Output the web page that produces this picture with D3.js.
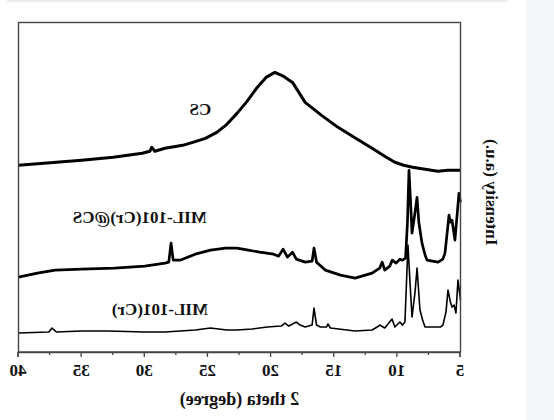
<!DOCTYPE html>
<meta charset="utf-8">
<style>
  body { margin: 0; background: #fff; }
  text { font-family: "Liberation Serif", "Times New Roman", serif; font-weight: bold; fill: #111; }
</style>
<script src="https://d3js.org/d3.v7.min.js"></script>
<div id="my_dataviz"></div>
<script>

// XRD patterns, [2 theta (deg), intensity (a.u.)]
var cs = [
  [40, 187], [37, 190], [35, 192], [32.5, 195], [30.2, 199], [29.6, 201], [29.45, 205], [29.2, 201],
  [28.4, 204], [27, 207], [26.2, 210], [25.2, 214], [24.3, 220], [23.5, 228], [22.7, 239],
  [21.9, 251], [21.1, 265], [20.4, 275], [19.7, 280], [19, 276], [18.3, 270], [17.3, 250],
  [16, 237], [14.7, 225], [13.3, 214], [12, 204], [11, 196], [10.2, 190], [9.5, 187],
  [8.8, 185], [7.8, 183], [6.8, 181], [6, 182], [5, 182]
];

var milcs = [
  [40, 75], [38.5, 79], [37.1, 82], [35, 83], [32.4, 84], [30, 86], [28.4, 89], [28.1, 90],
  [27.92, 109], [27.75, 92], [27.2, 92], [26, 98], [24.8, 102], [23.6, 104], [22.7, 104],
  [21.8, 102], [20.9, 100], [19.8, 98], [19.4, 96], [19.05, 103], [18.7, 95], [18.3, 100],
  [18, 93], [17.3, 90], [16.75, 91], [16.6, 104], [16.4, 90], [15.7, 82], [14.5, 77],
  [13.35, 74], [12, 79], [11.4, 84], [11.2, 90], [11, 82], [10.6, 86], [10.4, 92], [10.1, 89],
  [9.8, 93], [9.6, 92], [9.35, 94], [9.2, 130], [9.08, 182], [8.95, 150], [8.84, 119],
  [8.6, 140], [8.44, 155], [8.3, 130], [8.05, 109], [7.8, 97], [7.65, 92], [6.78, 90],
  [6.4, 93], [6.23, 99], [6.05, 120], [5.91, 137], [5.8, 130], [5.67, 132], [5.44, 112],
  [5.25, 140], [5.12, 159], [5, 150]
];

var mil = [
  [40, 19], [37.6, 20], [37.35, 24], [37, 20], [35, 21], [32.9, 21], [30, 20], [28.4, 20],
  [26, 22], [24.8, 24], [23.5, 22], [22.7, 22], [21.5, 23], [20.3, 25], [19.2, 26], [18.9, 29],
  [18.6, 26], [18, 30], [17.7, 27], [17.3, 25], [16.75, 27], [16.6, 44], [16.4, 27], [16.1, 25],
  [15.6, 25], [15.5, 28], [15.3, 24], [14, 22], [13.35, 21], [12, 22], [11.6, 25], [11.4, 27],
  [11, 24], [10.42, 33], [10.2, 25], [9.8, 30], [9.6, 27], [9.4, 30], [9.16, 107], [9, 70],
  [8.84, 35], [8.6, 60], [8.44, 84], [8.21, 42], [8, 32], [7.81, 25], [6.6, 25], [6.39, 27],
  [6.15, 40], [5.99, 62], [5.8, 50], [5.67, 45], [5.51, 47], [5.36, 39], [5.2, 72], [5, 52]
];

var majorTicks = [5, 10, 15, 20, 25, 30, 35, 40];
var minorTicks = [7.5, 12.5, 17.5, 22.5, 27.5, 32.5, 37.5];

var labels = [
  {text: "CS", at: [25.6, 237]},
  {text: "MIL-101(Cr)@CS", at: [30.4, 129]},
  {text: "MIL-101(Cr)", at: [28.8, 37]}
];

var W = 554, H = 420;
var margin = {top: 22.5, right: 18.5, bottom: 68, left: 93.5},
    width = W - margin.left - margin.right,
    height = H - margin.top - margin.bottom;

var svg = d3.select("#my_dataviz")
  .append("svg")
    .attr("width", W)
    .attr("height", H);

svg.append("rect").attr("x", 0).attr("y", 0).attr("width", W).attr("height", H).attr("fill", "#fff");
// page bits around the figure
svg.append("rect").attr("x", 526).attr("y", 0).attr("width", 28).attr("height", H).attr("fill", "#f6f7f9");
svg.append("rect").attr("x", 7).attr("y", 0).attr("width", 501).attr("height", 2).attr("fill", "#ededed");

// the figure is a mirror image
var fig = svg.append("g")
  .attr("transform", "translate(" + W + ",0) scale(-1,1)");

var g = fig.append("g")
  .attr("transform", "translate(" + margin.left + "," + margin.top + ")");

var x = d3.scaleLinear().domain([5, 40]).range([0, width]);
var y = d3.scaleLinear().domain([0, 330]).range([height, 0]);

var line = d3.line()
  .x(function(d) { return x(d[0]); })
  .y(function(d) { return y(d[1]); });

g.append("path").datum(cs).attr("d", line)
  .attr("fill", "none").attr("stroke", "#000").attr("stroke-width", 3).attr("stroke-linejoin", "round");
g.append("path").datum(milcs).attr("d", line)
  .attr("fill", "none").attr("stroke", "#000").attr("stroke-width", 2.7).attr("stroke-linejoin", "round");
g.append("path").datum(mil).attr("d", line)
  .attr("fill", "none").attr("stroke", "#000").attr("stroke-width", 1.6).attr("stroke-linejoin", "round");

// frame
g.append("rect")
  .attr("width", width).attr("height", height)
  .attr("fill", "none").attr("stroke", "#444").attr("stroke-width", 1.4);

var xAxis = g.append("g")
  .attr("transform", "translate(0," + height + ")")
  .call(d3.axisBottom(x).tickValues(majorTicks).tickSize(5).tickPadding(7).tickFormat(d3.format("d")));
xAxis.select(".domain").attr("stroke", "#444").attr("stroke-width", 1.4);
xAxis.selectAll(".tick line").attr("stroke", "#444").attr("stroke-width", 1.3);
xAxis.selectAll("text").attr("font-size", 17).attr("fill", "#111")
  .attr("font-family", "'Liberation Serif', 'Times New Roman', serif").attr("font-weight", "bold");

var xMinor = g.append("g")
  .attr("transform", "translate(0," + height + ")")
  .call(d3.axisBottom(x).tickValues(minorTicks).tickSize(3).tickFormat(""));
xMinor.select(".domain").remove();
xMinor.selectAll(".tick line").attr("stroke", "#444").attr("stroke-width", 1.3);

// axis titles
g.append("text")
  .attr("x", width / 2).attr("y", height + 53)
  .attr("text-anchor", "middle").attr("font-size", 18)
  .text("2 theta (degree)");

g.append("text")
  .attr("transform", "translate(-25," + (height / 2 + 5) + ") rotate(-90)")
  .attr("text-anchor", "middle").attr("font-size", 17)
  .text("Intensity (a.u.)");

// curve labels
g.selectAll(".lbl")
  .data(labels)
  .enter()
  .append("text")
    .attr("class", "lbl")
    .attr("x", function(d) { return x(d.at[0]); })
    .attr("y", function(d) { return y(d.at[1]); })
    .attr("text-anchor", "middle")
    .attr("font-size", 17)
    .text(function(d) { return d.text; });

</script>
